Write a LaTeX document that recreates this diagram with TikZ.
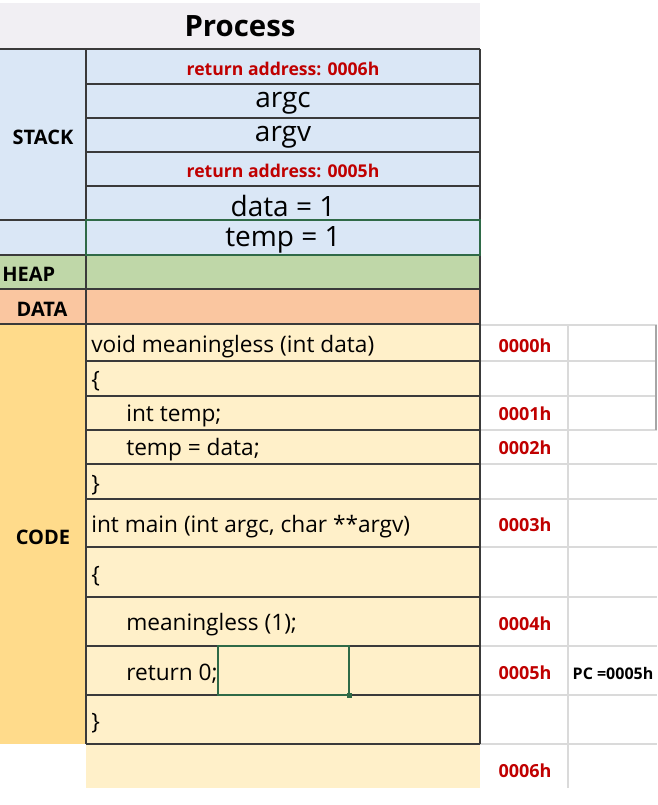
\documentclass[tikz,border=0pt]{standalone}
\usepackage{fontspec}
\setmainfont{Open Sans}
\usetikzlibrary{positioning}
\definecolor{stackblue}{HTML}{DAE7F6}
\definecolor{heapgreen}{HTML}{BFD7A8}
\definecolor{dataorange}{HTML}{FAC6A0}
\definecolor{codegold}{HTML}{FFDB8B}
\definecolor{codecell}{HTML}{FFF0C9}
\definecolor{titlegray}{HTML}{F1EFF3}
\definecolor{addrred}{HTML}{C00000}
\definecolor{gridgray}{HTML}{DADADA}
\definecolor{selgreen}{HTML}{2F6A47}
\definecolor{cellline}{HTML}{3A3A3A}
\tikzset{
  cell/.style={draw=cellline, line width=0.8pt},
  grid/.style={draw=gridgray, line width=0.8pt},
  stacktxt/.style={font=\fontsize{21}{25}\selectfont},
  retaddr/.style={text=addrred, font=\bfseries\fontsize{13.2}{16}\selectfont},
  seglabel/.style={font=\bfseries\fontsize{15}{18}\selectfont},
  codetxt/.style={anchor=west, inner sep=0pt, font=\fontsize{17}{20}\selectfont},
  addr/.style={text=addrred, font=\bfseries\fontsize{13.5}{16}\selectfont},
}
\begin{document}
\begin{tikzpicture}[x=0.75pt,y=-0.75pt]
  \useasboundingbox (0,0) rectangle (657,805);
  % background fills
  \fill[titlegray] (0,3) rectangle (480,48);
  \fill[stackblue] (0,49) rectangle (480,255);
  \fill[heapgreen] (0,255) rectangle (480,289);
  \fill[dataorange] (0,289) rectangle (480,324);
  \fill[codegold] (0,324) rectangle (86,744);
  \fill[codecell] (86,324) rectangle (480,788);

  % address grid on the right
  \foreach \y in {325,361,396,430,464,499,547,597,646,695,744}
    \draw[grid] (480,\y) -- (657,\y);
  \draw[grid] (568,325) -- (568,788);
  \draw[draw=gray!70, line width=0.8pt] (656,325) -- (656,430);

  % table lines
  \draw[cell] (0,49) -- (480,49);
  \foreach \y in {84,118,152,186}
    \draw[cell] (86,\y) -- (480,\y);
  \foreach \y in {220,255,289,324}
    \draw[cell] (0,\y) -- (480,\y);
  \foreach \y in {361,396,430,464,499,547,597,646,695,744}
    \draw[cell] (86,\y) -- (480,\y);
  \draw[cell] (86,49) -- (86,744);
  \draw[cell] (480,49) -- (480,744);
  \draw[selgreen, line width=0.8pt] (86,220) rectangle (480,255);

  % selected cell
  \draw[selgreen, line width=1pt] (218,646) rectangle (349,695);
  \fill[selgreen] (346.5,692.5) rectangle (351.5,697.5);

  % title
  \node[font=\bfseries\fontsize{22}{26}\selectfont] (title) at (240,26) {Process};

  % stack
  \node[retaddr] (ret6) at (283,69) {return address: 0006h};
  \node[stacktxt] (argc) at (283,103) {argc};
  \node[stacktxt] (argv) at (283,137) {argv};
  \node[retaddr] (ret5) at (283,171) {return address: 0005h};
  \node[stacktxt] (data) at (283,206) {data = 1};
  \node[stacktxt] (temp) at (283,240) {temp = 1};

  % segment labels
  \node[seglabel] (stack) at (43,137) {STACK};
  \node[seglabel, anchor=west, inner sep=0pt] (heap) at (2,274) {HEAP};
  \node[seglabel] (datalbl) at (42,309) {DATA};
  \node[seglabel] (code) at (43,537) {CODE};

  % code lines
  \node[codetxt] (l0) at (91,347) {void meaningless (int data)};
  \node[codetxt] (l1) at (91,381) {\{};
  \node[codetxt] (l2) at (126,416) {int temp;};
  \node[codetxt] (l3) at (126,450) {temp = data;};
  \node[codetxt] (l4) at (91,485) {\}};
  \node[codetxt] (l5) at (91,527) {int main (int argc, char **argv)};
  \node[codetxt] (l6) at (91,576) {\{};
  \node[codetxt] (l7) at (126,625) {meaningless (1);};
  \node[codetxt] (l8) at (126,674) {return 0;};
  \node[codetxt] (l9) at (91,723) {\}};

  % addresses
  \node[addr] (a0) at (525,346) {0000h};
  \node[addr] (a1) at (525,414) {0001h};
  \node[addr] (a2) at (525,448) {0002h};
  \node[addr] (a3) at (525,525) {0003h};
  \node[addr] (a4) at (525,624) {0004h};
  \node[addr] (a5) at (525,673) {0005h};
  \node[addr] (a6) at (525,771) {0006h};
  \node[font=\bfseries\fontsize{12}{14}\selectfont] (pc) at (613,673) {PC =0005h};
\end{tikzpicture}
\end{document}
